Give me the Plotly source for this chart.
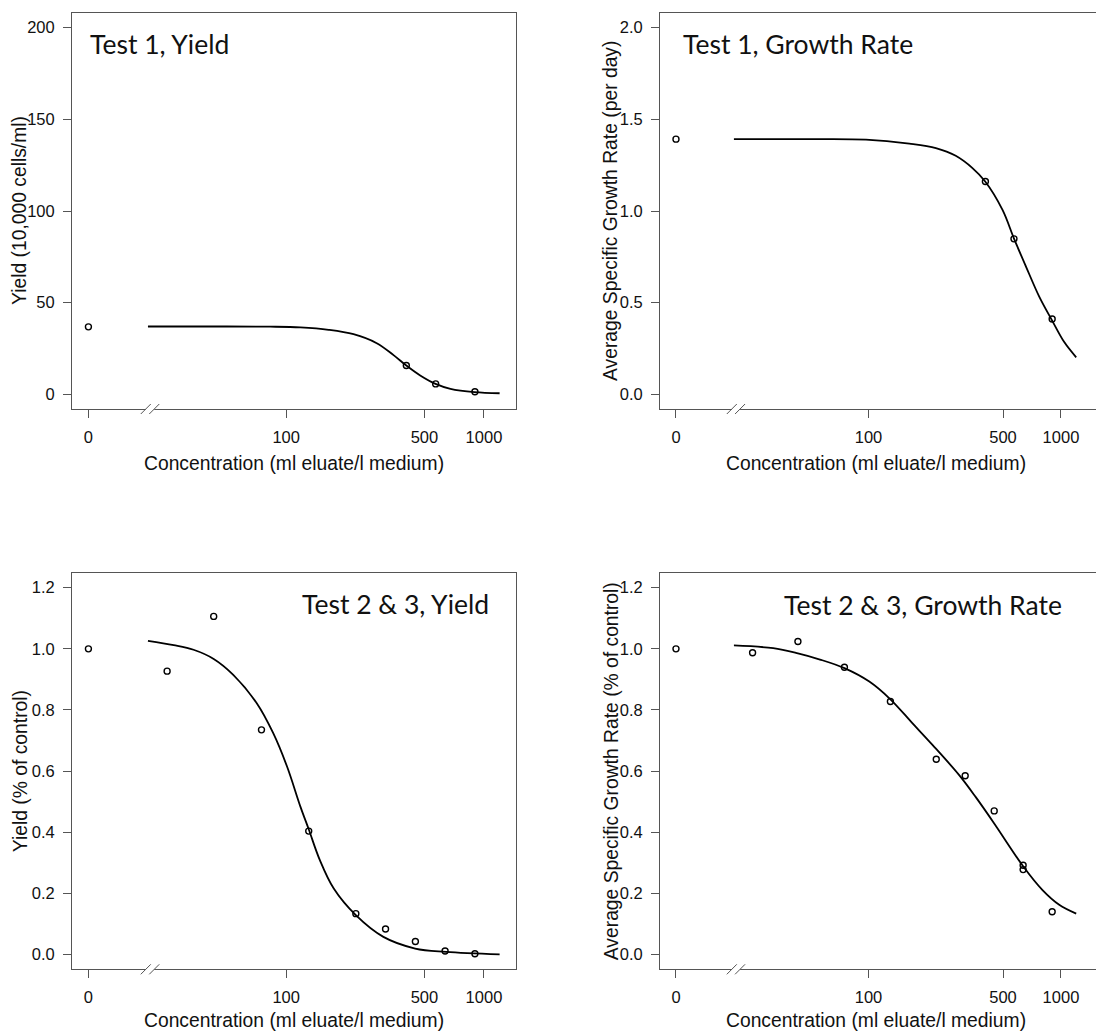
import plotly.graph_objects as go

# ---------------- data ----------------
# Test 1 (yield, 10,000 cells/ml)
t1_conc = [405, 570, 900]
t1_yield = [15.7, 5.7, 1.4]
t1_yield_ctrl = 36.8
t1_yield_fit_x = [20, 50, 83, 118, 164, 219, 287, 349, 405, 476, 569, 677, 896, 1200]
t1_yield_fit_y = [37.0, 37.0, 36.9, 36.5, 35.2, 32.8, 27.9, 21.4, 15.7, 10.3, 5.7, 3.0, 1.2, 0.6]

# Test 1 (growth rate, per day)
t1_rate = [1.161, 0.848, 0.411]
t1_rate_ctrl = 1.392
t1_rate_fit_x = [20, 50, 97, 163, 224, 284, 347, 404, 497, 571, 658, 771, 897, 1040, 1200]
t1_rate_fit_y = [1.392, 1.392, 1.389, 1.367, 1.343, 1.301, 1.234, 1.161, 1.006, 0.848, 0.697, 0.533,
                 0.405, 0.285, 0.202]

# Test 2 & 3 (yield, fraction of control)
t23_conc = [25, 43, 75, 130, 225, 318, 450, 636, 900]
t23_yield = [0.927, 1.106, 0.735, 0.404, 0.134, 0.084, 0.043, 0.012, 0.003]
t23_yield_ctrl = 1.0
t23_yield_fit_x = [20, 27, 34, 43, 54, 71, 86, 101, 118, 130, 148, 174, 225, 310, 449, 643, 1200]
t23_yield_fit_y = [1.026, 1.012, 0.997, 0.967, 0.915, 0.822, 0.724, 0.615, 0.484, 0.41, 0.309, 0.216,
                   0.129, 0.058, 0.020, 0.009, 0.001]

# Test 2 & 3 (growth rate, fraction of control)
t23_rate_conc = [25, 43, 75, 130, 225, 318, 450, 636, 636, 900]
t23_rate = [0.987, 1.024, 0.940, 0.828, 0.639, 0.585, 0.470, 0.2925, 0.278, 0.140]
t23_rate_ctrl = 1.0
t23_rate_fit_x = [20, 32, 43, 56, 75, 101, 130, 169, 215, 296, 361, 450, 636, 802, 979, 1200]
t23_rate_fit_y = [1.011, 1.002, 0.985, 0.965, 0.937, 0.893, 0.835, 0.757, 0.686, 0.587, 0.515, 0.429,
                  0.289, 0.211, 0.163, 0.134]

x_tickvals = [10, 100, 500, 1000]
x_ticktext = ["0", "100", "500", "1000"]
ZERO_POS = 10  # where the control (0) is drawn on the log axis

y1_ticks = [0, 50, 100, 150, 200]
y1_text = ["0", "50", "100", "150", "200"]
y2_ticks = [0, 0.5, 1.0, 1.5, 2.0]
y2_text = ["0.0", "0.5", "1.0", "1.5", "2.0"]
y3_ticks = [0, 0.2, 0.4, 0.6, 0.8, 1.0, 1.2]
y3_text = ["0.0", "0.2", "0.4", "0.6", "0.8", "1.0", "1.2"]

titles = ["Test 1, Yield", "Test 1, Growth Rate", "Test 2 & 3, Yield", "Test 2 & 3, Growth Rate"]
x_title = "Concentration (ml eluate/l medium)"
y_titles = ["Yield (10,000 cells/ml)", "Average Specific Growth Rate (per day)",
            "Yield (% of control)", "Average Specific Growth Rate (% of control)"]

# ---------------- layout helpers ----------------
W, H = 1096, 1032
AX = "#555555"
TICKFONT = dict(family="Liberation Sans, Arial, sans-serif", size=16.5, color="#111111")
LABFONT = dict(family="Liberation Sans, Arial, sans-serif", size=19.3, color="#111111")
TITLEFONT = dict(family="Lato, Open Sans, sans-serif", size=26.5, color="#111111")

left_dom = [72 / W, 516 / W]
right_dom = [660 / W, 1.0]
top_dom = [1 - 409 / H, 1 - 13 / H]
bot_dom = [1 - 969.3 / H, 1 - 573 / H]
xr_left = [0.917, 3.162]
xr_right = [0.917, 3.182]

fig = go.Figure()

panels = [
    # (axis suffix, xdomain, ydomain, xrange, yrange, yticks, ytext, mirror_y)
    ("", left_dom, top_dom, xr_left, [-8, 208], y1_ticks, y1_text, True),
    ("2", right_dom, top_dom, xr_right, [-0.08, 2.08], y2_ticks, y2_text, False),
    ("3", left_dom, bot_dom, xr_left, [-0.048, 1.248], y3_ticks, y3_text, True),
    ("4", right_dom, bot_dom, xr_right, [-0.048, 1.248], y3_ticks, y3_text, False),
]

series = [
    (t1_conc, t1_yield, t1_yield_ctrl, t1_yield_fit_x, t1_yield_fit_y),
    (t1_conc, t1_rate, t1_rate_ctrl, t1_rate_fit_x, t1_rate_fit_y),
    (t23_conc, t23_yield, t23_yield_ctrl, t23_yield_fit_x, t23_yield_fit_y),
    (t23_rate_conc, t23_rate, t23_rate_ctrl, t23_rate_fit_x, t23_rate_fit_y),
]

shapes = []
annotations = []

for i, ((suf, xd, yd, xr, yr, yt, ytx, mir), (cx, cy, ctrl, fx, fy)) in enumerate(zip(panels, series)):
    xa = "x" + suf
    ya = "y" + suf
    # fitted curve
    fig.add_trace(go.Scatter(x=fx, y=fy, mode="lines", xaxis=xa, yaxis=ya,
                             line=dict(color="black", width=1.8, shape="spline", smoothing=1.0),
                             showlegend=False, hoverinfo="skip"))
    # observations incl. control drawn at the "0" position
    fig.add_trace(go.Scatter(x=[ZERO_POS] + list(cx), y=[ctrl] + list(cy), mode="markers",
                             xaxis=xa, yaxis=ya,
                             marker=dict(symbol="circle-open", size=6, color="black",
                                         line=dict(width=1.4, color="black")),
                             showlegend=False))

    xkey = "xaxis" + suf
    ykey = "yaxis" + suf
    fig.layout[xkey] = dict(domain=xd, type="log", range=xr, tickmode="array",
                            tickvals=x_tickvals, ticktext=x_ticktext, ticks="outside",
                            ticklen=8, tickwidth=1, tickcolor=AX, showline=True, linecolor=AX,
                            linewidth=1, mirror=True, showgrid=False, zeroline=False,
                            tickfont=TICKFONT, anchor=ya, ticklabelstandoff=5)
    fig.layout[ykey] = dict(domain=yd, range=yr, tickmode="array", tickvals=yt, ticktext=ytx,
                            ticks="outside", ticklen=8, tickwidth=1, tickcolor=AX,
                            showline=True, linecolor=AX, linewidth=1, mirror=mir,
                            showgrid=False, zeroline=False, tickfont=TICKFONT, anchor=xa,
                            ticklabelstandoff=5)

    # axis break marks "//" on the x axis
    span = xr[1] - xr[0]
    wpx = (xd[1] - xd[0]) * W
    hpx = (yd[1] - yd[0]) * H
    centers = [(1.29 - xr[0]) / span, (1.333 - xr[0]) / span]
    dx = 5 / wpx
    dy = 5 / hpx
    shapes.append(dict(type="line", xref=xa + " domain", yref=ya + " domain",
                       x0=centers[0], x1=centers[1], y0=0, y1=0,
                       line=dict(color="white", width=3), layer="above"))
    for c in centers:
        shapes.append(dict(type="line", xref=xa + " domain", yref=ya + " domain",
                           x0=c - dx, x1=c + dx, y0=-dy, y1=dy,
                           line=dict(color=AX, width=1), layer="above"))

    # axis titles
    xc = (xd[0] + xd[1]) / 2
    yc = (yd[0] + yd[1]) / 2
    xtitle_y = 463 if i < 2 else 1020
    annotations.append(dict(text=x_title, xref="paper", yref="paper", x=xc if i % 2 == 0 else 876 / W,
                            y=1 - xtitle_y / H, xanchor="center", yanchor="middle",
                            showarrow=False, font=LABFONT))
    ytitle_x = [19, 610, 20, 611][i]
    annotations.append(dict(text=y_titles[i], xref="paper", yref="paper", x=ytitle_x / W, y=yc,
                            xanchor="center", yanchor="middle", textangle=-90,
                            showarrow=False, font=LABFONT))

# panel titles
title_pos = [(88, 44, "left"), (681, 44, "left"), (491, 604, "right"), (1064, 605, "right")]
for t, (px, py, anc) in zip(titles, title_pos):
    annotations.append(dict(text=t, xref="paper", yref="paper", x=px / W, y=1 - py / H,
                            xanchor=anc, yanchor="middle", showarrow=False, font=TITLEFONT))

fig.update_layout(width=W, height=H, margin=dict(l=0, r=0, t=0, b=0),
                  paper_bgcolor="white", plot_bgcolor="white",
                  shapes=shapes, annotations=annotations, showlegend=False)

fig.write_html("out.html")
